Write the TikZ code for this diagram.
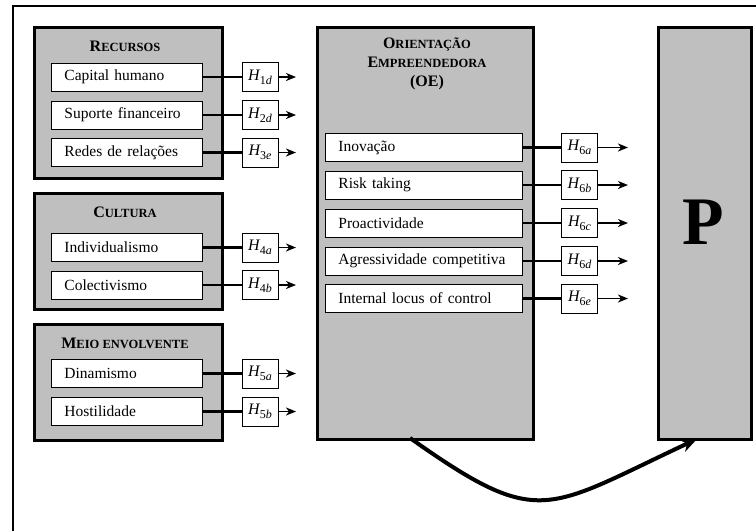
\documentclass[tikz,border=0pt]{standalone}
\usepackage{fontspec}
\setmainfont{Liberation Serif}
\usetikzlibrary{arrows.meta}
\definecolor{panel}{HTML}{BFBFBF}
% small caps built by hand: large initial, smaller capitals after it
\newcommand\capsc[2]{{\fontsize{16}{19}\selectfont #1}{\fontsize{12.5}{19}\selectfont #2}}
\newcommand\hyp[2]{{\itshape H}{\fontsize{12}{12}\selectfont\raisebox{-4pt}{#1\itshape #2}}}
\tikzset{
  panelbox/.style={draw=black, line width=3pt, fill=panel, anchor=north west, inner sep=0pt},
  itembox/.style={draw=black, line width=0.9pt, fill=white, anchor=west, minimum height=28pt,
    inner xsep=13pt, inner ysep=0pt, align=left, font=\fontsize{15.5}{17}\selectfont},
  hbox/.style={draw=black, line width=0.9pt, fill=white, minimum width=36pt, minimum height=29pt,
    inner sep=0pt, font=\fontsize{16}{17}\selectfont},
  title/.style={font=\bfseries\fontsize{16}{19}\selectfont, align=center, inner sep=0pt},
  link/.style={line width=2.4pt},
  outarrow/.style={line width=1.8pt, -{Stealth[length=10pt,width=8pt,inset=3pt]}},
}
\begin{document}
\begin{tikzpicture}[x=1pt,y=-1pt]
\useasboundingbox (0,0) rectangle (756,531);
% frame
\draw[line width=1.6pt] (756,6) -- (13,6) -- (13,531);

% panels
\node[panelbox, minimum width=188pt, minimum height=151pt] (rec) at (33,26) {};
\node[panelbox, minimum width=188pt, minimum height=116pt] (cul) at (33,192) {};
\node[panelbox, minimum width=188pt, minimum height=116pt] (mei) at (33,323) {};
\node[panelbox, minimum width=216pt, minimum height=412pt] (oe) at (316,26) {};
\node[panelbox, minimum width=93pt, minimum height=412pt] (p) at (657,26) {};

% panel titles
\node[title] (trec) at (125,46) {\capsc{R}{ECURSOS}};
\node[title] (tcul) at (125,212) {\capsc{C}{ULTURA}};
\node[title] (tmei) at (125,343) {\capsc{M}{EIO ENVOLVENTE}};
\node[title] (toe) at (427,64) {\capsc{O}{RIENTAÇÃO}\\\capsc{E}{MPREENDEDORA}\\(OE)};
\node[font=\fontsize{68}{70}\selectfont\bfseries, inner sep=0pt] (tp) at (703,222) {P};

% items, hypothesis boxes and arrows of the three left panels
\foreach \n/\y/\txt/\hn/\hl in {
  a/77/Capital humano/1/d,
  b/115/Suporte financeiro/2/d,
  c/152.5/Redes de relações/3/e,
  d/247.5/Individualismo/4/a,
  e/285/Colectivismo/4/b,
  f/373.5/Dinamismo/5/a,
  g/411.5/Hostilidade/5/b}{
  \node[itembox, text width=125pt] (i\n) at (51,\y) {\txt};
  \node[hbox] (h\n) at (260,\y) {\hyp{\hn}{\hl}};
  \coordinate (e\n) at (296,\y);
  \draw[link] (i\n.east) -- (h\n.west);
  \draw[outarrow] (h\n.east) -- (e\n);
}

% items of the entrepreneurial orientation panel
\foreach \n/\y/\txt/\hl in {
  a/147.5/Inovação/a,
  b/185/Risk taking/b,
  c/223/Proactividade/c,
  d/261/Agressividade competitiva/d,
  e/298.5/Internal locus of control/e}{
  \node[itembox, text width=171pt] (o\n) at (325,\y) {\txt};
  \node[hbox] (k\n) at (579.5,\y) {\hyp{6}{\hl}};
  \coordinate (f\n) at (628,\y);
  \draw[link] (o\n.east) -- (k\n.west);
  \draw[outarrow] (k\n.east) -- (f\n);
}

% curved link from OE to P
\coordinate (cs) at (410,438);
\coordinate (ce) at (697,439);
\draw[line width=4pt, -{Stealth[length=16pt,width=13pt,inset=5pt]}]
  (cs) .. controls (540,530) and (545,510) .. (ce);
\end{tikzpicture}
\end{document}
